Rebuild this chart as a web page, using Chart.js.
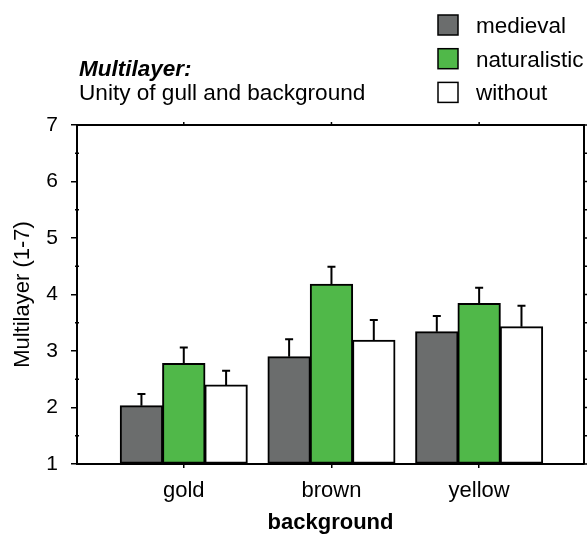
<!DOCTYPE html>
<html>
<head>
<meta charset="utf-8">
<script src="https://cdn.jsdelivr.net/npm/chart.js@4/dist/chart.umd.min.js"></script>
<style>
  html, body { margin: 0; padding: 0; background: #ffffff; }
  #wrap { width: 587px; height: 534px; position: relative; }
</style>
</head>
<body>
<div id="wrap"><canvas id="c"></canvas></div>
<script>
const categories = ['gold', 'brown', 'yellow'];
const seriesNames = ['medieval', 'naturalistic', 'without'];
const medieval = [2.03, 2.90, 3.34];
const naturalistic = [2.78, 4.18, 3.84];
const without = [2.40, 3.19, 3.43];
const medievalErr = [0.21, 0.31, 0.28];
const naturalisticErr = [0.28, 0.31, 0.28];
const withoutErr = [0.25, 0.36, 0.37];
const yTickValues = [1, 2, 3, 4, 5, 6, 7];
const titleBold = 'Multilayer:';
const titleSub = 'Unity of gull and background';
const yTitle = 'Multilayer (1-7)';
const xTitle = 'background';

const FONT = "'Liberation Sans', Arial, sans-serif";
const seriesColors = ['#6b6d6d', '#50b849', '#ffffff'];

function toPoints(vals) { return vals.map((v, i) => ({ x: i + 1, y: v })); }

const datasets = [
  { label: seriesNames[0], data: toPoints(medieval), errors: medievalErr, backgroundColor: seriesColors[0] },
  { label: seriesNames[1], data: toPoints(naturalistic), errors: naturalisticErr, backgroundColor: seriesColors[1] },
  { label: seriesNames[2], data: toPoints(without), errors: withoutErr, backgroundColor: seriesColors[2] }
];

const decorPlugin = {
  id: 'decor',
  afterDatasetsDraw(chart) {
    const ctx = chart.ctx;
    const ys = chart.scales.y, xs = chart.scales.x;
    const ca = chart.chartArea;
    ctx.save();
    // error bars
    ctx.strokeStyle = '#000';
    ctx.lineWidth = 2;
    chart.data.datasets.forEach((ds, di) => {
      const meta = chart.getDatasetMeta(di);
      meta.data.forEach((bar, j) => {
        const v = ds.data[j].y;
        const e = ds.errors[j];
        const yTop = ys.getPixelForValue(v);
        const yErr = ys.getPixelForValue(v + e);
        ctx.beginPath();
        ctx.moveTo(bar.x, yTop);
        ctx.lineTo(bar.x, yErr);
        ctx.moveTo(bar.x - 4, yErr);
        ctx.lineTo(bar.x + 4, yErr);
        ctx.stroke();
      });
    });
    // top and right frame
    ctx.lineWidth = 2;
    ctx.beginPath();
    ctx.moveTo(ca.left, ca.top);
    ctx.lineTo(ca.right, ca.top);
    ctx.lineTo(ca.right, ca.bottom);
    ctx.stroke();
    // top ticks at categories
    ctx.lineWidth = 1.5;
    categories.forEach((c, i) => {
      const x = xs.getPixelForValue(i + 1);
      ctx.beginPath();
      ctx.moveTo(x, ca.top);
      ctx.lineTo(x, ca.top - 3);
      ctx.stroke();
    });
    // right ticks and left minor ticks
    for (let v = yTickValues[0]; v <= yTickValues[yTickValues.length - 1]; v += 0.5) {
      const y = ys.getPixelForValue(v);
      ctx.beginPath();
      ctx.moveTo(ca.right, y);
      ctx.lineTo(ca.right + 3, y);
      ctx.stroke();
      if (v % 1 !== 0) {
        ctx.beginPath();
        ctx.moveTo(ca.left - 2, y);
        ctx.lineTo(ca.left + 2, y);
        ctx.stroke();
      }
    }
    // title
    ctx.fillStyle = '#000';
    ctx.textAlign = 'left';
    ctx.textBaseline = 'alphabetic';
    ctx.font = `italic bold 22.5px ${FONT}`;
    ctx.fillText(titleBold, 79, 76);
    ctx.font = `22.6px ${FONT}`;
    ctx.fillText(titleSub, 79, 100);
    // legend
    chart.data.datasets.forEach((ds, di) => {
      const cy = 25 + di * 33.7;
      ctx.fillStyle = ds.backgroundColor;
      ctx.fillRect(438, cy - 10, 20, 20);
      ctx.lineWidth = 1.5;
      ctx.strokeStyle = '#000';
      ctx.strokeRect(438, cy - 10, 20, 20);
      ctx.fillStyle = '#000';
      ctx.font = `22.5px ${FONT}`;
      ctx.fillText(ds.label, 476, cy + 8);
    });
    ctx.restore();
  }
};

new Chart(document.getElementById('c'), {
  type: 'bar',
  data: { datasets },
  options: {
    responsive: true,
    maintainAspectRatio: false,
    animation: false,
    layout: { padding: { top: 125, right: 3, left: 0, bottom: 0 } },
    datasets: {
      bar: {
        base: 1,
        borderColor: '#000',
        borderWidth: 2,
        borderSkipped: false,
        inflateAmount: 0.5,
        categoryPercentage: 0.86,
        barPercentage: 1.0
      }
    },
    plugins: {
      legend: { display: false },
      title: { display: false },
      tooltip: { enabled: false }
    },
    scales: {
      x: {
        type: 'linear',
        offset: false,
        min: 0.277,
        max: 3.71,
        afterBuildTicks: (scale) => { scale.ticks = categories.map((c, i) => ({ value: i + 1 })); },
        afterFit: (scale) => { scale.height = 70; },
        ticks: {
          autoSkip: false,
          maxRotation: 0,
          padding: 10,
          color: '#000',
          font: { family: FONT, size: 22 },
          callback: (v) => categories[Math.round(v) - 1]
        },
        grid: { display: true, drawOnChartArea: false, drawTicks: true, tickLength: 4, color: '#000', lineWidth: 1.5, offset: false },
        border: { display: true, color: '#000', width: 2 },
        title: {
          display: true, text: xTitle, color: '#000',
          font: { family: FONT, size: 22, weight: 'bold', lineHeight: 1.0 },
          padding: { top: 0, bottom: 0 }
        }
      },
      y: {
        min: 1,
        max: 7,
        afterBuildTicks: (scale) => { scale.ticks = yTickValues.map(v => ({ value: v })); },
        afterFit: (scale) => { scale.width = 77; },
        ticks: {
          padding: 13,
          color: '#000',
          font: { family: FONT, size: 21 }
        },
        grid: { display: true, drawOnChartArea: false, drawTicks: true, tickLength: 6, color: '#000', lineWidth: 1.5 },
        border: { display: true, color: '#000', width: 2 },
        title: {
          display: true, text: yTitle, color: '#000',
          font: { family: FONT, size: 22, lineHeight: 1.0 },
          padding: { top: 12, bottom: 0 }
        }
      }
    }
  },
  plugins: [decorPlugin]
});
</script>
</body>
</html>
